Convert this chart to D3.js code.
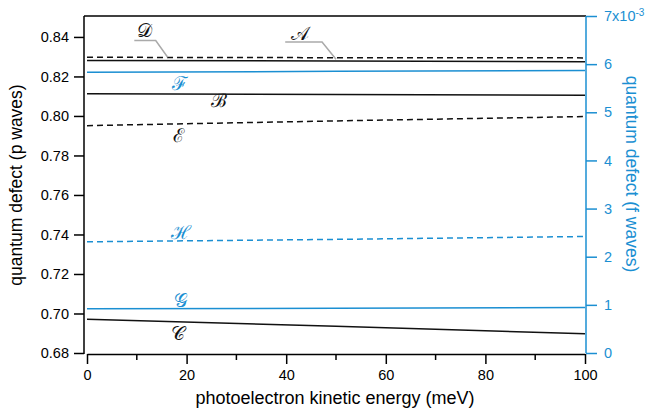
<!DOCTYPE html>
<html>
<head>
<meta charset="utf-8">
<script src="https://cdn.jsdelivr.net/npm/d3@7"></script>
<style>
  body { margin: 0; background: #fff; }
  text { font-family: "Liberation Sans", Arial, sans-serif; }
</style>
</head>
<body>
<div id="container-id-1"></div>
<script>

// data
/////////////////////
var energy = [0, 50, 100];

// p waves (left axis)
var p_A = [0.8281, 0.8278, 0.8275];
var p_B = [0.8113, 0.8109, 0.8105];
var p_C = [0.6971, 0.6935, 0.6898];
var p_D = [0.8297, 0.8295, 0.8294];
var p_E = [0.7951, 0.7975, 0.7997];

// f waves (right axis)
var f_F = [5.83e-3, 5.85e-3, 5.87e-3];
var f_G = [0.92e-3, 0.93e-3, 0.946e-3];
var f_H = [2.31e-3, 2.36e-3, 2.42e-3];

var x_ticks = [0, 20, 40, 60, 80, 100];
var x_minor = [10, 30, 50, 70, 90];
var left_ticks = [0.68, 0.70, 0.72, 0.74, 0.76, 0.78, 0.80, 0.82, 0.84];
var right_ticks = [0, 1, 2, 3, 4, 5, 6, 7];

var blue = '#1b8fd2';

// series definitions
var series = [
  {name: 'A', vals: p_A, axis: 'p', dash: null},
  {name: 'B', vals: p_B, axis: 'p', dash: null},
  {name: 'C', vals: p_C, axis: 'p', dash: null},
  {name: 'D', vals: p_D, axis: 'p', dash: '6,4'},
  {name: 'E', vals: p_E, axis: 'p', dash: '6,4'},
  {name: 'F', vals: f_F, axis: 'f', dash: null},
  {name: 'G', vals: f_G, axis: 'f', dash: null},
  {name: 'H', vals: f_H, axis: 'f', dash: '6,4'}
];

// make chart
////////////////////
var svg_width = 646;
var svg_height = 416;

var main_svg = d3.select('#container-id-1')
  .append('svg')
  .attr('width', svg_width)
  .attr('height', svg_height);

var plot_left = 84, plot_right = 586, plot_top = 16, plot_bottom = 353;

var x = d3.scaleLinear().domain([0, 100]).range([87, 585]);
var y_p = d3.scaleLinear().domain([0.68, 0.8506]).range([plot_bottom, plot_top]);
var y_f = d3.scaleLinear().domain([0, 7e-3]).range([plot_bottom, plot_top]);

// top frame line
main_svg.append('line')
  .attr('x1', plot_left).attr('x2', plot_right)
  .attr('y1', plot_top).attr('y2', plot_top)
  .attr('stroke', '#000').attr('stroke-width', 1.5);

// left axis
var left_axis = main_svg.append('g')
  .attr('transform', 'translate(' + plot_left + ',0)')
  .call(d3.axisLeft(y_p).tickValues(left_ticks).tickSize(10).tickPadding(5)
    .tickFormat(d3.format('.2f')).tickSizeOuter(0));
left_axis.select('.domain').attr('stroke-width', 1.5)
  .attr('d', 'M0,' + plot_top + 'V' + (plot_bottom + 1));
left_axis.selectAll('.tick line').attr('stroke-width', 1.5);
left_axis.selectAll('text').attr('font-size', 14.5).attr('fill', '#000');

// right axis
var right_axis = main_svg.append('g')
  .attr('transform', 'translate(' + plot_right + ',0)')
  .call(d3.axisRight(y_f).tickValues(right_ticks.map(function(d){ return d * 1e-3; }))
    .tickSize(11).tickPadding(7).tickFormat(function(d){ return Math.round(d * 1000); })
    .tickSizeOuter(0));
right_axis.select('.domain').attr('stroke', blue).attr('stroke-width', 1.5)
  .attr('d', 'M0,' + plot_top + 'V' + plot_bottom);
right_axis.selectAll('.tick line').attr('stroke', blue).attr('stroke-width', 1.5);
right_axis.selectAll('text').attr('font-size', 14.5).attr('fill', blue);

// exponent on top tick
right_axis.selectAll('.tick text')
  .filter(function(d){ return Math.round(d * 1000) === 7; })
  .text('7x10')
  .append('tspan')
  .attr('font-size', 10)
  .attr('dy', '-0.55em')
  .text('-3');

// bottom axis
var bottom_axis = main_svg.append('g')
  .attr('transform', 'translate(0,' + (plot_bottom + 1) + ')')
  .call(d3.axisBottom(x).tickValues(x_ticks).tickSize(10).tickPadding(6).tickSizeOuter(0));
bottom_axis.select('.domain').attr('stroke-width', 1.5);
bottom_axis.selectAll('.tick line').attr('stroke-width', 1.5);
bottom_axis.selectAll('text').attr('font-size', 14.5).attr('fill', '#000');

bottom_axis.selectAll('.minor')
  .data(x_minor)
  .enter()
  .append('line')
  .attr('x1', function(d){ return x(d); })
  .attr('x2', function(d){ return x(d); })
  .attr('y1', 0).attr('y2', 6)
  .attr('stroke', '#000').attr('stroke-width', 1.5);

// axis titles
main_svg.append('text')
  .attr('transform', 'translate(22,185) rotate(-90)')
  .attr('text-anchor', 'middle')
  .attr('font-size', 17.5)
  .text('quantum defect (p waves)');

main_svg.append('text')
  .attr('transform', 'translate(626,174) rotate(90)')
  .attr('text-anchor', 'middle')
  .attr('font-size', 17.5)
  .attr('fill', blue)
  .text('quantum defect (f waves)');

main_svg.append('text')
  .attr('x', 335).attr('y', 404)
  .attr('text-anchor', 'middle')
  .attr('font-size', 18)
  .text('photoelectron kinetic energy (meV)');

// lines
var line_p = d3.line()
  .x(function(d, i){ return x(energy[i]); })
  .y(function(d){ return y_p(d); });
var line_f = d3.line()
  .x(function(d, i){ return x(energy[i]); })
  .y(function(d){ return y_f(d); });

main_svg.append('g').selectAll('path')
  .data(series)
  .enter()
  .append('path')
  .attr('d', function(s){ return s.axis === 'p' ? line_p(s.vals) : line_f(s.vals); })
  .attr('fill', 'none')
  .attr('stroke', function(s){ return s.axis === 'p' ? '#111' : blue; })
  .attr('stroke-width', 1.5)
  .attr('stroke-dasharray', function(s){ return s.dash; });

// curve labels (script capitals)
var script_letters = {A: '\uD835\uDC9C', B: '\u212C', C: '\uD835\uDC9E', D: '\uD835\uDC9F',
  E: '\u2130', F: '\u2131', G: '\uD835\uDCA2', H: '\u210B'};

var label_pos = [
  {name: 'D', e: 11.6, v: 0.8420, axis: 'p'},
  {name: 'A', e: 42.7, v: 0.8405, axis: 'p'},
  {name: 'F', e: 18.6, v: 5.55e-3, axis: 'f'},
  {name: 'B', e: 26.5, v: 0.8066, axis: 'p'},
  {name: 'E', e: 18.3, v: 0.7889, axis: 'p'},
  {name: 'H', e: 18.8, v: 2.45e-3, axis: 'f'},
  {name: 'G', e: 18.8, v: 1.04e-3, axis: 'f'},
  {name: 'C', e: 18.3, v: 0.6886, axis: 'p'}
];

main_svg.append('g').selectAll('text')
  .data(label_pos)
  .enter()
  .append('text')
  .attr('x', function(d){ return x(d.e); })
  .attr('y', function(d){ return d.axis === 'p' ? y_p(d.v) : y_f(d.v); })
  .attr('text-anchor', 'middle')
  .attr('dominant-baseline', 'middle')
  .attr('font-size', 19)
  .style('font-family', '"Liberation Serif", serif')
  .attr('fill', function(d){ return d.axis === 'p' ? '#111' : blue; })
  .text(function(d){ return script_letters[d.name]; });

// leader lines for D and A
var leaders = [
  [[9.5, 0.8382], [13.8, 0.8382], [16.2, 0.8297]],
  [[39.8, 0.8374], [47.2, 0.8374], [50, 0.8287]]
];
main_svg.append('g').selectAll('path')
  .data(leaders)
  .enter()
  .append('path')
  .attr('d', d3.line().x(function(d){ return x(d[0]); }).y(function(d){ return y_p(d[1]); }))
  .attr('fill', 'none')
  .attr('stroke', '#aaa')
  .attr('stroke-width', 1.5);

</script>
</body>
</html>
